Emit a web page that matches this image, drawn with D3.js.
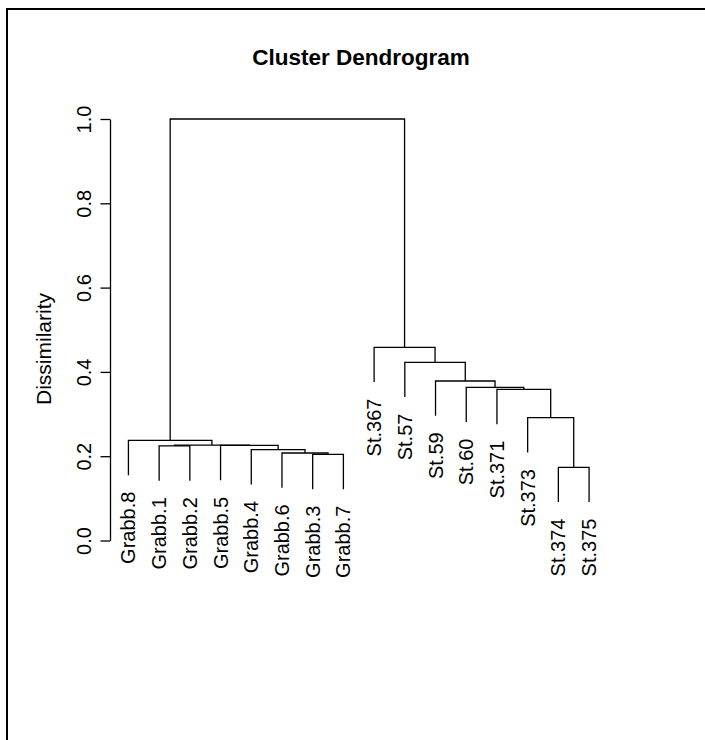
<!DOCTYPE html>
<html>
<head>
<meta charset="utf-8">
<script src="https://cdn.jsdelivr.net/npm/d3@7"></script>
<style>
  body { margin: 0; background: #fff; }
  svg { display: block; font-family: "Liberation Sans", Arial, sans-serif; }
</style>
</head>
<body>
<script>
// leaves in plotting order (left to right)
const leafOrder = ["Grabb.8", "Grabb.1", "Grabb.2", "Grabb.5", "Grabb.4", "Grabb.6", "Grabb.3", "Grabb.7",
                   "St.367", "St.57", "St.59", "St.60", "St.371", "St.373", "St.374", "St.375"];

// merges: a string is a leaf, a number is an earlier merge (1-based, like hclust$merge)
const merges = [
  ["Grabb.3", "Grabb.7"],  // 1
  ["Grabb.6", 1],          // 2
  ["Grabb.4", 2],          // 3
  ["Grabb.1", "Grabb.2"],  // 4
  ["Grabb.5", 3],          // 5
  [4, 5],                  // 6
  ["Grabb.8", 6],          // 7
  ["St.374", "St.375"],    // 8
  ["St.373", 8],           // 9
  ["St.371", 9],           // 10
  ["St.60", 10],           // 11
  ["St.59", 11],           // 12
  ["St.57", 12],           // 13
  ["St.367", 13],          // 14
  [7, 14]                  // 15
];
const mergeHeights = [0.2045, 0.2076, 0.2155, 0.2245, 0.2255, 0.2265, 0.2377,
                      0.1737, 0.2913, 0.3587, 0.3635, 0.3784, 0.4228, 0.4584, 1.0];

const yTicks = [0, 0.2, 0.4, 0.6, 0.8, 1.0];

var width = 705, height = 740;

const svg = d3.select('body').append('svg')
  .attr('width', width)
  .attr('height', height);

// outer frame
svg.append('rect')
  .attr('x', 7).attr('y', 9)
  .attr('width', width + 20).attr('height', height + 20)
  .attr('fill', 'none')
  .attr('stroke', '#000')
  .attr('stroke-width', 2);

const xScale = d3.scaleLinear()
  .domain([0.4, leafOrder.length + 0.6])
  .range([110, 607.5]);

const yScale = d3.scaleLinear()
  .domain([0, 1])
  .range([540.5, 119]);

// build tree
function build(ref) {
  if (typeof ref === 'string') return { name: ref };
  return { h: mergeHeights[ref - 1], children: merges[ref - 1].map(build) };
}
const root = d3.hierarchy(build(merges.length));

// hang as in plot.hclust (hang = 0.1 of height range)
const hang = 0.1 * (d3.max(mergeHeights) - d3.min(mergeHeights));

root.eachAfter(function(d) {
  if (d.children) {
    d.x = d3.mean(d.children, c => c.x);
    d.y = d.data.h;
  } else {
    d.x = leafOrder.indexOf(d.data.name) + 1;
    d.y = d.parent.data.h - hang;
  }
});

const g = svg.append('g');

g.selectAll('.link')
  .data(root.descendants().filter(d => d.children))
  .enter()
    .append('path')
    .attr('class', 'link')
    .attr('fill', 'none')
    .attr('stroke', '#000')
    .attr('stroke-width', 1.3)
    .attr('d', function(d) {
      const a = d.children[0], b = d.children[1];
      return 'M' + xScale(a.x) + ',' + yScale(a.y)
        + 'V' + yScale(d.y)
        + 'H' + xScale(b.x)
        + 'V' + yScale(b.y);
    });

// leaf labels
g.selectAll('.leaf')
  .data(root.leaves())
  .enter()
    .append('text')
    .attr('class', 'leaf')
    .attr('transform', d => 'translate(' + xScale(d.x) + ',' + (yScale(d.y) + 16.5) + ') rotate(-90)')
    .attr('dy', '0.35em')
    .attr('text-anchor', 'end')
    .attr('font-size', 20)
    .text(d => d.data.name);

// y axis
const yAxis = svg.append('g')
  .attr('transform', 'translate(' + xScale(0.4) + ',0)')
  .call(d3.axisLeft(yScale)
    .tickValues(yTicks)
    .tickFormat(d3.format('.1f'))
    .tickSize(9.5)
    .tickSizeOuter(0));

yAxis.select('.domain').attr('stroke-width', 1.3);
yAxis.selectAll('.tick line').attr('stroke-width', 1.3);
yAxis.selectAll('.tick text')
  .attr('transform', 'rotate(-90)')
  .attr('x', 0)
  .attr('y', -19.5)
  .attr('dy', 0)
  .attr('text-anchor', 'middle')
  .attr('font-size', 20)
  .attr('font-family', '"Liberation Sans", Arial, sans-serif')
  .attr('fill', '#000');

svg.append('text')
  .attr('transform', 'translate(51,349) rotate(-90)')
  .attr('text-anchor', 'middle')
  .attr('font-size', 21)
  .text('Dissimilarity');

svg.append('text')
  .attr('x', 361)
  .attr('y', 64.5)
  .attr('text-anchor', 'middle')
  .attr('font-weight', 'bold')
  .attr('font-size', 22.5)
  .text('Cluster Dendrogram');
</script>
</body>
</html>
